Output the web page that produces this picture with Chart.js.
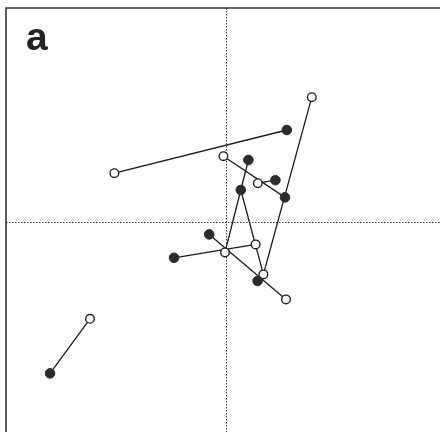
<!DOCTYPE html>
<html>
<head>
<meta charset="utf-8">
<script src="https://cdn.jsdelivr.net/npm/chart.js@4/dist/chart.umd.min.js"></script>
<style>
  html, body { margin: 0; padding: 0; background: #fff; }
  canvas { display: block; }
</style>
</head>
<body>
<canvas id="plot" width="440" height="432"></canvas>
<script>
// ordination scores: open circles and filled circles
const openX = [0.429, -0.558, -0.013, 0.159, 0.148, -0.005, 0.187, 0.300, -0.680];
const openY = [0.624, 0.244, 0.329, 0.194, -0.112, -0.152, -0.262, -0.387, -0.484];
const filledX = [0.304, 0.112, 0.247, 0.074, 0.295, -0.084, -0.260, 0.158, -0.880];
const filledY = [0.460, 0.310, 0.209, 0.160, 0.123, -0.062, -0.179, -0.295, -0.757];

// connecting lines, as point keys: o = open, f = filled
const links = [
    ['o1', 'f0'],
    ['o8', 'f8'],
    ['o2', 'f4'],
    ['o3', 'f2'],
    ['o0', 'o6'],
    ['f1', 'f3', 'o5'],
    ['f3', 'o6'],
    ['f6', 'o4'],
    ['f5', 'o7']
];

const xRange = [-1.1, 1.07];
const yRange = [-1.05, 1.07];
const panelLabel = 'a';

function pointFor(key) {
    const i = Number(key.slice(1));
    return key[0] === 'o' ? { x: openX[i], y: openY[i] } : { x: filledX[i], y: filledY[i] };
}

const lineSets = links.map(path => ({
    data: path.map(pointFor),
    showLine: true,
    borderColor: '#1a1a1a',
    borderWidth: 1.3,
    pointRadius: 0,
    order: 2
}));

const openSet = {
    data: openX.map((x, i) => ({ x, y: openY[i] })),
    pointRadius: 4.3,
    pointBackgroundColor: '#fff',
    pointBorderColor: '#222',
    pointBorderWidth: 1.4,
    order: 1
};

const filledSet = {
    data: filledX.map((x, i) => ({ x, y: filledY[i] })),
    pointRadius: 4.8,
    pointBackgroundColor: '#2b2b2b',
    pointBorderColor: '#2b2b2b',
    pointBorderWidth: 1,
    order: 0
};

// frame on top/left, dotted zero lines and the panel letter
const frameAndAxes = {
    id: 'frameAndAxes',
    beforeDatasetsDraw(chart) {
        const { ctx, chartArea: a, scales: { x, y } } = chart;
        const x0 = Math.round(x.getPixelForValue(0)) + 0.5;
        const y0 = Math.round(y.getPixelForValue(0)) + 0.5;
        ctx.save();
        ctx.strokeStyle = '#3a3a3a';
        ctx.lineWidth = 1;
        ctx.setLineDash([1.5, 1.5]);
        ctx.beginPath();
        ctx.moveTo(x0, a.top);
        ctx.lineTo(x0, a.bottom);
        ctx.moveTo(a.left, y0);
        ctx.lineTo(a.right, y0);
        ctx.stroke();

        ctx.setLineDash([]);
        ctx.strokeStyle = '#333';
        ctx.lineWidth = 1.6;
        ctx.beginPath();
        ctx.moveTo(a.left, a.bottom);
        ctx.lineTo(a.left, a.top);
        ctx.lineTo(a.right, a.top);
        ctx.stroke();

        ctx.fillStyle = '#222';
        ctx.font = 'bold 39px "Liberation Sans", Arial, sans-serif';
        ctx.textBaseline = 'alphabetic';
        ctx.fillText(panelLabel, 26, 50);
        ctx.restore();
    }
};

new Chart(document.getElementById('plot'), {
    type: 'scatter',
    data: { datasets: [filledSet, openSet, ...lineSets] },
    options: {
        responsive: false,
        animation: false,
        layout: { autoPadding: false, padding: { left: 6, top: 8, right: 0, bottom: 0 } },
        plugins: { legend: { display: false }, tooltip: { enabled: false } },
        scales: {
            x: { display: false, min: xRange[0], max: xRange[1] },
            y: { display: false, min: yRange[0], max: yRange[1] }
        }
    },
    plugins: [frameAndAxes]
});
</script>
</body>
</html>
